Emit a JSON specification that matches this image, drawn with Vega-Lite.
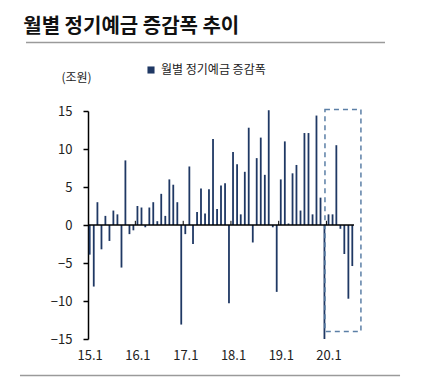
{
  "$schema": "https://vega.github.io/schema/vega-lite/v6.json",
  "autosize": "none",
  "width": 266,
  "height": 228,
  "padding": {"left": 88, "top": 111, "right": 75, "bottom": 43},
  "background": "white",
  "title": {"text": "월별 정기예금 증감폭 추이", "anchor": "start", "dx": 4, "offset": 5, "fontSize": 20, "fontWeight": "bold", "font": "Noto Sans CJK KR", "color": "#111111"},
  "config": {
    "view": {"stroke": null},
    "font": "Noto Sans CJK KR",
    "axisX": {"domain": false, "ticks": false, "grid": false, "labelOverlap": false, "labelFontSize": 13, "labelColor": "#222222", "labelPadding": 10, "labelFont": "Noto Sans CJK KR"},
    "axisY": {"domain": true, "domainColor": "#000000", "domainWidth": 1.5, "ticks": true, "tickColor": "#000000", "tickWidth": 1.5, "tickSize": 5, "grid": false, "labelOverlap": false, "labelFontSize": 13, "labelColor": "#222222", "labelPadding": 11, "labelFont": "Noto Sans CJK KR", "titleFontSize": 12, "titleFontWeight": "normal", "titleColor": "#222222", "titleFont": "Noto Sans CJK KR"}
  },
  "data": {"values": [{}]},
  "datasets": {
    "monthly": [
      {"date": "2015-01-01", "value": -3.9}, {"date": "2015-02-01", "value": -8.1}, {"date": "2015-03-01", "value": 3.0}, {"date": "2015-04-01", "value": -3.2}, {"date": "2015-05-01", "value": 1.2}, {"date": "2015-06-01", "value": -2.1}, {"date": "2015-07-01", "value": 1.9}, {"date": "2015-08-01", "value": 1.4}, {"date": "2015-09-01", "value": -5.6}, {"date": "2015-10-01", "value": 8.5}, {"date": "2015-11-01", "value": -1.2}, {"date": "2015-12-01", "value": -0.7},
      {"date": "2016-01-01", "value": 2.5}, {"date": "2016-02-01", "value": 2.3}, {"date": "2016-03-01", "value": -0.3}, {"date": "2016-04-01", "value": 2.3}, {"date": "2016-05-01", "value": 3.0}, {"date": "2016-06-01", "value": 0.5}, {"date": "2016-07-01", "value": 4.1}, {"date": "2016-08-01", "value": 1.2}, {"date": "2016-09-01", "value": 6.0}, {"date": "2016-10-01", "value": 5.3}, {"date": "2016-11-01", "value": 3.0}, {"date": "2016-12-01", "value": -13.1},
      {"date": "2017-01-01", "value": -1.2}, {"date": "2017-02-01", "value": 7.7}, {"date": "2017-03-01", "value": -2.5}, {"date": "2017-04-01", "value": 1.7}, {"date": "2017-05-01", "value": 4.8}, {"date": "2017-06-01", "value": 1.5}, {"date": "2017-07-01", "value": 4.7}, {"date": "2017-08-01", "value": 11.3}, {"date": "2017-09-01", "value": 2.1}, {"date": "2017-10-01", "value": 5.2}, {"date": "2017-11-01", "value": 5.5}, {"date": "2017-12-01", "value": -10.3},
      {"date": "2018-01-01", "value": 9.6}, {"date": "2018-02-01", "value": 8.0}, {"date": "2018-03-01", "value": 1.4}, {"date": "2018-04-01", "value": 7.0}, {"date": "2018-05-01", "value": 12.8}, {"date": "2018-06-01", "value": -2.3}, {"date": "2018-07-01", "value": 8.8}, {"date": "2018-08-01", "value": 11.5}, {"date": "2018-09-01", "value": 6.6}, {"date": "2018-10-01", "value": 15.1}, {"date": "2018-11-01", "value": -0.3}, {"date": "2018-12-01", "value": -8.8},
      {"date": "2019-01-01", "value": 6.0}, {"date": "2019-02-01", "value": 11.0}, {"date": "2019-03-01", "value": 0.2}, {"date": "2019-04-01", "value": 6.8}, {"date": "2019-05-01", "value": 7.9}, {"date": "2019-06-01", "value": 1.9}, {"date": "2019-07-01", "value": 12.1}, {"date": "2019-08-01", "value": 12.1}, {"date": "2019-09-01", "value": 1.4}, {"date": "2019-10-01", "value": 14.4}, {"date": "2019-11-01", "value": 3.6}, {"date": "2019-12-01", "value": -15.0},
      {"date": "2020-01-01", "value": 1.4}, {"date": "2020-02-01", "value": 1.4}, {"date": "2020-03-01", "value": 10.5}, {"date": "2020-04-01", "value": -0.5}, {"date": "2020-05-01", "value": -3.8}, {"date": "2020-06-01", "value": -9.7}, {"date": "2020-07-01", "value": -5.4}
    ],
    "yearTicks": [
      {"date": "2015-12-16"}, {"date": "2016-12-16"}, {"date": "2017-12-16"}, {"date": "2018-12-16"}, {"date": "2019-12-16"}
    ],
    "highlight": [
      {"date": "2019-12-05", "end": "2020-09-05", "value": 15.2, "bottom": -14.0}
    ]
  },
  "layer": [
    {
      "data": {"name": "monthly"},
      "mark": {"type": "bar", "width": 1.8},
      "encoding": {
        "x": {
          "field": "date", "type": "temporal",
          "scale": {"type": "utc", "padding": 0, "domain": [{"year": 2014, "month": 12, "date": 19, "utc": true}, {"year": 2020, "month": 7, "date": 14, "utc": true}]},
          "axis": {"title": null, "values": [{"year": 2015, "month": 1, "date": 1, "utc": true}, {"year": 2016, "month": 1, "date": 1, "utc": true}, {"year": 2017, "month": 1, "date": 1, "utc": true}, {"year": 2018, "month": 1, "date": 1, "utc": true}, {"year": 2019, "month": 1, "date": 1, "utc": true}, {"year": 2020, "month": 1, "date": 1, "utc": true}], "labelExpr": "utcFormat(datum.value, '%y') + '.1'"}
        },
        "y": {
          "field": "value", "type": "quantitative",
          "scale": {"domain": [-15, 15], "nice": false},
          "axis": {"title": "(조원)", "titleAngle": 0, "titleAlign": "center", "titleBaseline": "middle", "titleX": -12, "titleY": -34, "values": [-15, -10, -5, 0, 5, 10, 15]}
        },
        "color": {
          "datum": "월별 정기예금 증감폭",
          "scale": {"range": ["#1f3864"]},
          "legend": {"title": null, "orient": "none", "legendX": 57, "legendY": -47, "symbolType": "square", "symbolSize": 50, "labelFontSize": 12, "labelColor": "#222222", "labelFont": "Noto Sans CJK KR", "symbolStrokeWidth": 0}
        }
      }
    },
    {
      "data": {"name": "yearTicks"},
      "mark": {"type": "rule", "color": "#000000", "strokeWidth": 1},
      "encoding": {
        "x": {"field": "date", "type": "temporal", "axis": {"title": null, "values": [{"year": 2015, "month": 1, "date": 1, "utc": true}, {"year": 2016, "month": 1, "date": 1, "utc": true}, {"year": 2017, "month": 1, "date": 1, "utc": true}, {"year": 2018, "month": 1, "date": 1, "utc": true}, {"year": 2019, "month": 1, "date": 1, "utc": true}, {"year": 2020, "month": 1, "date": 1, "utc": true}], "labelExpr": "utcFormat(datum.value, '%y') + '.1'"}},
        "y": {"datum": 0, "type": "quantitative", "axis": {"title": "(조원)", "titleAngle": 0, "titleAlign": "center", "titleBaseline": "middle", "titleX": -12, "titleY": -34, "values": [-15, -10, -5, 0, 5, 10, 15]}},
        "y2": {"datum": 0.55}
      }
    },
    {
      "data": {"name": "highlight"},
      "mark": {"type": "rect", "fill": null, "fillOpacity": 0, "stroke": "#5b7fa6", "strokeWidth": 1.5, "strokeDash": [5, 4], "clip": false},
      "encoding": {
        "x": {"field": "date", "type": "temporal", "axis": {"title": null, "values": [{"year": 2015, "month": 1, "date": 1, "utc": true}, {"year": 2016, "month": 1, "date": 1, "utc": true}, {"year": 2017, "month": 1, "date": 1, "utc": true}, {"year": 2018, "month": 1, "date": 1, "utc": true}, {"year": 2019, "month": 1, "date": 1, "utc": true}, {"year": 2020, "month": 1, "date": 1, "utc": true}], "labelExpr": "utcFormat(datum.value, '%y') + '.1'"}},
        "x2": {"field": "end"},
        "y": {"field": "value", "type": "quantitative", "axis": {"title": "(조원)", "titleAngle": 0, "titleAlign": "center", "titleBaseline": "middle", "titleX": -12, "titleY": -34, "values": [-15, -10, -5, 0, 5, 10, 15]}},
        "y2": {"field": "bottom"}
      }
    },
    {
      "mark": {"type": "rule", "color": "#000000", "strokeWidth": 1.5},
      "encoding": {
        "y": {"datum": 0, "type": "quantitative", "axis": {"title": "(조원)", "titleAngle": 0, "titleAlign": "center", "titleBaseline": "middle", "titleX": -12, "titleY": -34, "values": [-15, -10, -5, 0, 5, 10, 15]}}
      }
    },
    {
      "mark": {"type": "rule", "color": "#9a9a9a", "strokeWidth": 1.5},
      "encoding": {
        "x": {"datum": {"year": 2013, "month": 9, "date": 1, "utc": true}, "type": "temporal", "axis": {"title": null, "values": [{"year": 2015, "month": 1, "date": 1, "utc": true}, {"year": 2016, "month": 1, "date": 1, "utc": true}, {"year": 2017, "month": 1, "date": 1, "utc": true}, {"year": 2018, "month": 1, "date": 1, "utc": true}, {"year": 2019, "month": 1, "date": 1, "utc": true}, {"year": 2020, "month": 1, "date": 1, "utc": true}], "labelExpr": "utcFormat(datum.value, '%y') + '.1'"}},
        "x2": {"datum": {"year": 2021, "month": 3, "date": 8, "utc": true}},
        "y": {"datum": 24.0, "type": "quantitative", "axis": {"title": "(조원)", "titleAngle": 0, "titleAlign": "center", "titleBaseline": "middle", "titleX": -12, "titleY": -34, "values": [-15, -10, -5, 0, 5, 10, 15]}}
      }
    },
    {
      "mark": {"type": "rule", "color": "#9a9a9a", "strokeWidth": 1.5},
      "encoding": {
        "x": {"datum": {"year": 2013, "month": 7, "date": 17, "utc": true}, "type": "temporal", "axis": {"title": null, "values": [{"year": 2015, "month": 1, "date": 1, "utc": true}, {"year": 2016, "month": 1, "date": 1, "utc": true}, {"year": 2017, "month": 1, "date": 1, "utc": true}, {"year": 2018, "month": 1, "date": 1, "utc": true}, {"year": 2019, "month": 1, "date": 1, "utc": true}, {"year": 2020, "month": 1, "date": 1, "utc": true}], "labelExpr": "utcFormat(datum.value, '%y') + '.1'"}},
        "x2": {"datum": {"year": 2021, "month": 7, "date": 1, "utc": true}},
        "y": {"datum": -19.8, "type": "quantitative", "axis": {"title": "(조원)", "titleAngle": 0, "titleAlign": "center", "titleBaseline": "middle", "titleX": -12, "titleY": -34, "values": [-15, -10, -5, 0, 5, 10, 15]}}
      }
    }
  ]
}
